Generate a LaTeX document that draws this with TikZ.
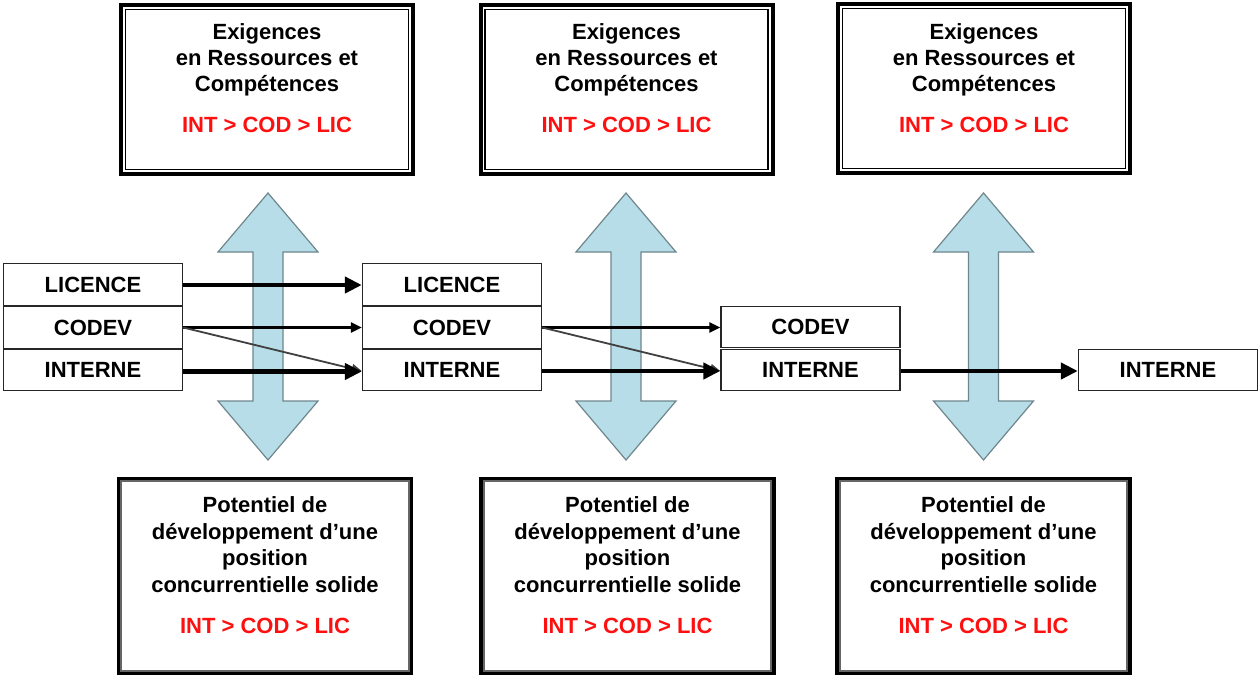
\documentclass[tikz,border=0pt]{standalone}
\usepackage{fontspec}
\setmainfont{Liberation Sans}
\usetikzlibrary{arrows.meta}
\definecolor{aqua}{HTML}{B7DEE8}
\definecolor{aquaedge}{HTML}{6F868C}
\definecolor{txtred}{HTML}{FF1010}
\definecolor{diag}{HTML}{404040}

\newcommand{\mytopbox}[3]{% name, x, y
  \node[topbox] (#1) at (#2,#3) {};
  \draw[line width=1.6pt] ([xshift=6.5pt,yshift=-6.5pt]#1.north west) rectangle ([xshift=-6.5pt,yshift=6.5pt]#1.south east);
  \node[txt] (#1-a) at (#2,39) {Exigences};
  \node[txt] (#1-b) at (#2,65) {en Ressources et};
  \node[txt] (#1-c) at (#2,91) {Compétences};
  \node[txt,text=txtred] (#1-d) at (#2,132.5) {INT > COD > LIC};
}
\newcommand{\mybotbox}[3]{% name, x, y
  \node[botbox] (#1) at (#2,#3) {};
  \draw[line width=1.6pt,black!60] ([xshift=4.5pt,yshift=-4.5pt]#1.north west) rectangle ([xshift=-4.5pt,yshift=4.5pt]#1.south east);
  \node[txt] (#1-a) at (#2,512) {Potentiel de};
  \node[txt] (#1-b) at (#2,539) {développement d’une};
  \node[txt] (#1-c) at (#2,565) {position};
  \node[txt] (#1-d) at (#2,592) {concurrentielle solide};
  \node[txt,text=txtred] (#1-e) at (#2,633.5) {INT > COD > LIC};
}
\newcommand{\dblarrow}[1]{% x centre
  \draw[fill=aqua,draw=aquaedge,line width=1.2pt,line join=miter]
    (#1,193) -- (#1+50,252) -- (#1+15,252) -- (#1+15,401) -- (#1+50,401) -- (#1,460)
    -- (#1-50,401) -- (#1-15,401) -- (#1-15,252) -- (#1-50,252) -- cycle;
}

\begin{document}
\begin{tikzpicture}[x=1pt,y=-1pt,
  txt/.style={anchor=base,inner sep=0pt,font=\fontsize{22}{26}\selectfont\bfseries},
  topbox/.style={draw,line width=4pt,minimum width=292pt,minimum height=169pt,inner sep=0pt},
  botbox/.style={draw,line width=4.5pt,minimum width=292pt,minimum height=194pt,inner sep=0pt},
  lbl/.style={draw=black!85,fill=white,line width=1.4pt,minimum width=179pt,minimum height=41.5pt,inner sep=0pt,font=\fontsize{22}{26}\selectfont\bfseries},
  thick arrow/.style={line width=4.8pt,-{Triangle[length=17pt,width=16pt]}},
  mid arrow/.style={line width=3pt,-{Triangle[length=11pt,width=10pt]}},
  thin arrow/.style={line width=1.8pt,draw=diag,-{Triangle[length=10pt,width=9pt]}}
]
\useasboundingbox[fill=white] (0,0) rectangle (1259,678);

% top and bottom boxes
\mytopbox{topA}{267}{89.5}
\mytopbox{topB}{626.5}{89.5}
\mytopbox{topC}{984}{88.5}
\mybotbox{botA}{265}{576}
\mybotbox{botB}{627.5}{576}
\mybotbox{botC}{983.5}{576}

% double arrows
\dblarrow{268}
\dblarrow{626}
\dblarrow{983.5}

% option boxes
\node[lbl] (lic1) at (93,284.5) {LICENCE};
\node[lbl] (cod1) at (93,327.5) {CODEV};
\node[lbl] (int1) at (93,370) {INTERNE};
\node[lbl] (lic2) at (452,284.5) {LICENCE};
\node[lbl] (cod2) at (452,327.5) {CODEV};
\node[lbl] (int2) at (452,370) {INTERNE};
\node[lbl] (cod3) at (810.5,327) {CODEV};
\node[lbl] (int3) at (810.5,370) {INTERNE};
\node[lbl] (int4) at (1168,370) {INTERNE};

% connectors
\draw[thick arrow] ([yshift=-0.5pt]lic1.east) -- ([yshift=-0.5pt]lic2.west);
\draw[mid arrow] (cod1.east) -- (cod2.west);
\draw[thin arrow] (cod1.east) -- ([yshift=-1pt]int2.west);
\draw[thick arrow] ([yshift=-1.5pt]int1.east) -- ([yshift=-1.5pt]int2.west);
\draw[mid arrow] (cod2.east) -- (cod3.west |- cod2.east);
\draw[thin arrow] (cod2.east) -- ([yshift=-1pt]int3.west);
\draw[thick arrow] ([yshift=-1pt]int2.east) -- ([yshift=-1pt]int3.west);
\draw[thick arrow] ([yshift=-1pt]int3.east) -- ([yshift=-1pt]int4.west);
\end{tikzpicture}
\end{document}
